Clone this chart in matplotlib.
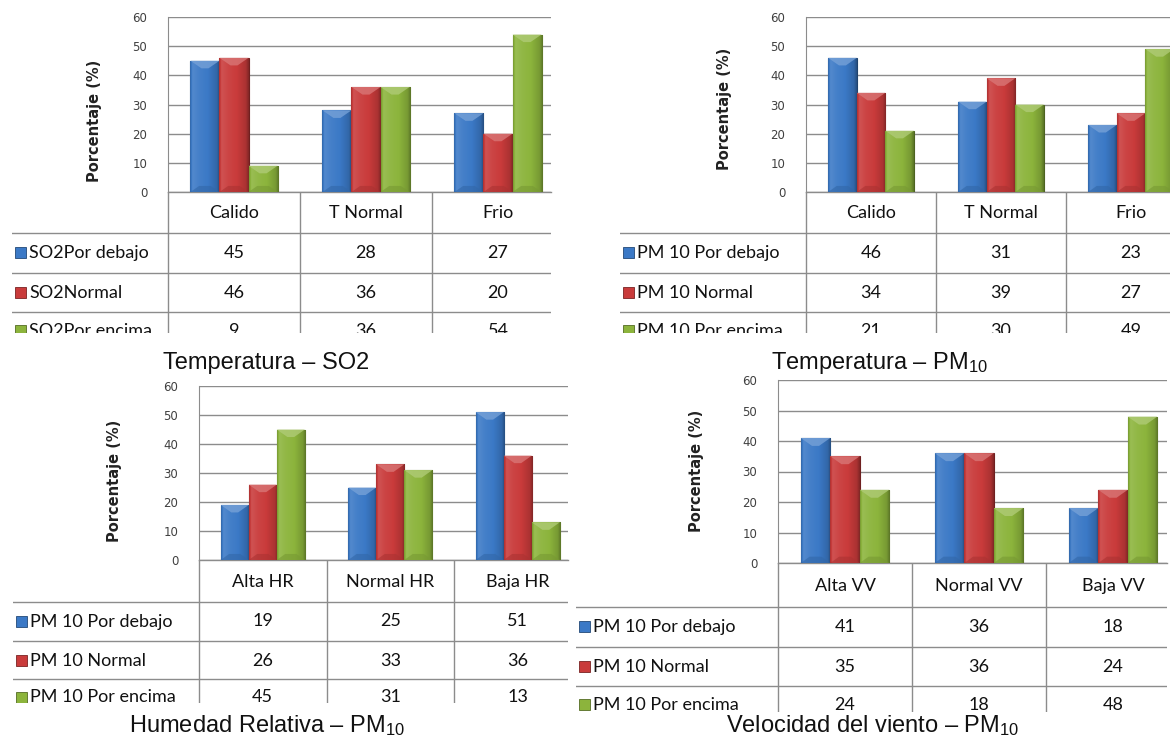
import numpy as np
import matplotlib
matplotlib.use("Agg")
import matplotlib.pyplot as plt
from matplotlib.patches import Rectangle, Polygon
from matplotlib.colors import to_rgb

plt.rcParams['mathtext.fontset'] = 'custom'
plt.rcParams['mathtext.rm'] = 'Liberation Sans'
plt.rcParams['mathtext.it'] = 'Liberation Sans'

# ---------------- data ----------------
cats_temp = ["Calido", "T Normal", "Frio"]
cats_hr = ["Alta HR", "Normal HR", "Baja HR"]
cats_vv = ["Alta VV", "Normal VV", "Baja VV"]
series_so2 = ["SO2Por debajo", "SO2Normal", "SO2Por encima"]
series_pm = ["PM 10 Por debajo", "PM 10 Normal", "PM 10 Por encima"]

so2_temp_debajo = [45, 28, 27]
so2_temp_normal = [46, 36, 20]
so2_temp_encima = [9, 36, 54]

pm_temp_debajo = [46, 31, 23]
pm_temp_normal = [34, 39, 27]
pm_temp_encima = [21, 30, 49]

pm_hr_debajo = [19, 25, 51]
pm_hr_normal = [26, 33, 36]
pm_hr_encima = [45, 31, 13]

pm_vv_debajo = [41, 36, 18]
pm_vv_normal = [35, 36, 24]
pm_vv_encima = [24, 18, 48]

yticks = [0, 10, 20, 30, 40, 50, 60]
ylabel = "Porcentaje (%)"
captions = ["Temperatura – SO2", "Temperatura – PM$_{10}$",
            "Humedad Relativa – PM$_{10}$", "Velocidad del viento – PM$_{10}$"]

# ---------------- style ----------------
series_colors = ["#3B79C6", "#C93B3B", "#8CB43C"]
grid_color = "#8C8C8C"
W, H = 1170, 740
TABLE_FONT = "Lato"
BAR_W = 0.22

fig = plt.figure(figsize=(W / 100, H / 100), dpi=100)


def fx(x):
    return x / W


def fy(y):
    return 1 - y / H


def shade(c, f):
    c = np.array(to_rgb(c))
    if f >= 0:
        return c + (1 - c) * f
    return c * (1 + f)


def gradient_bar(ax, rect, color):
    x, w, h = rect.get_x(), rect.get_width(), rect.get_height()
    t = np.linspace(0, 1, 64)
    prof = np.interp(t, [0, 0.08, 0.3, 0.6, 0.9, 1.0],
                     [-0.15, 0.12, 0.05, 0.0, -0.15, -0.35])
    img = np.array([[shade(color, p) for p in prof]])
    im = ax.imshow(img, extent=[x, x + w, 0, h], aspect='auto',
                   interpolation='bilinear', zorder=3)
    im.set_clip_path(rect)
    bev = min(2.6, h * 0.3)
    top = Polygon([[x, h], [x + w, h], [x + w * 0.62, h - bev], [x + w * 0.38, h - bev]],
                  closed=True, facecolor=shade(color, 0.3), edgecolor='none',
                  alpha=0.8, zorder=4)
    ax.add_patch(top)
    bot = Polygon([[x, 0], [x + w, 0], [x + w * 0.7, bev * 0.8], [x + w * 0.3, bev * 0.8]],
                  closed=True, facecolor=shade(color, -0.15), edgecolor='none',
                  alpha=0.6, zorder=4)
    ax.add_patch(bot)


def panel(left, right_vis, colw, y60, y0, rows, cut, tleft,
          ylab_xy, cap_xy, cats, series, values, caption):
    ax = fig.add_axes([fx(left), fy(y0), (right_vis - left) / W, (y0 - y60) / H])
    xs = np.arange(len(cats))
    for i, (vals, col) in enumerate(zip(values, series_colors)):
        bars = ax.bar(xs + (i - 1) * BAR_W, vals, width=BAR_W, color=col,
                      edgecolor=shade(col, -0.45), linewidth=0.8, zorder=3)
        for r in bars:
            gradient_bar(ax, r, col)
    ax.set_xlim(-0.5, -0.5 + (right_vis - left) / colw)
    ax.set_ylim(0, 60)
    ax.set_yticks(yticks)
    ax.set_yticklabels([str(v) for v in yticks])
    ax.set_xticks([])
    ax.tick_params(axis='y', length=0, pad=15, labelsize=8.5, labelcolor="#404040")
    ax.yaxis.grid(True, color=grid_color, linewidth=1.0, zorder=0)
    ax.set_axisbelow(True)
    for s in ["right", "bottom", "top"]:
        ax.spines[s].set_visible(False)
    ax.spines["left"].set_color(grid_color)
    ax.axhline(0, color=grid_color, linewidth=1.0, zorder=2, clip_on=False)
    for lab in ax.get_yticklabels():
        lab.set_fontfamily("DejaVu Sans")
    fig.text(fx(ylab_xy[0]), fy(ylab_xy[1]), ylabel, rotation=90, ha='center',
             va='center', fontsize=10.5, fontweight='bold', family="DejaVu Sans",
             color="#222222")

    # data table
    tax = fig.add_axes([fx(tleft), fy(cut), (right_vis - tleft) / W, (cut - y0) / H])
    tax.set_xlim(tleft, right_vis)
    tax.set_ylim(cut, y0)
    tax.axis('off')
    r1, r2, r3 = rows
    rh = r2 - r1
    for yy in rows:
        tax.plot([tleft, right_vis], [yy, yy], color=grid_color, lw=1.0, clip_on=True)
    for k in range(len(cats) + 1):
        xx = left + k * colw
        tax.plot([xx, xx], [y0, cut + 5], color=grid_color, lw=1.0, clip_on=True)
    for k, c in enumerate(cats):
        tax.text(left + (k + 0.5) * colw, (y0 + r1) / 2 + 1, c, ha='center', va='center',
                 fontsize=13, family=TABLE_FONT, color="#111111", clip_on=True)
    row_centers = [r1 + rh / 2, r2 + rh / 2, r3 + rh / 2 - 1]
    for i, (vals, name, col) in enumerate(zip(values, series, series_colors)):
        yc = row_centers[i]
        tax.add_patch(Rectangle((tleft + 3, yc - 6), 11, 11, facecolor=col,
                                edgecolor=shade(col, -0.4), lw=0.6, clip_on=True))
        tax.text(tleft + 17, yc, name, ha='left', va='center', fontsize=13,
                 family=TABLE_FONT, color="#111111", clip_on=True)
        for k, v in enumerate(vals):
            tax.text(left + (k + 0.5) * colw, yc, str(v), ha='center', va='center',
                     fontsize=13, family=TABLE_FONT, color="#111111", clip_on=True)

    fig.text(fx(cap_xy[0]), fy(cap_xy[1]), caption, ha='center', va='baseline',
             fontsize=17, family="Liberation Sans", color="#111111")


panel(168, 551, 132, 17, 192, (233, 273, 312), 333, 12, (94, 121), (266, 369),
      cats_temp, series_so2, [so2_temp_debajo, so2_temp_normal, so2_temp_encima],
      captions[0])
panel(806, 1170, 130, 17, 192, (233, 273, 312), 333, 620, (725, 109), (879, 369),
      cats_temp, series_pm, [pm_temp_debajo, pm_temp_normal, pm_temp_encima],
      captions[1])
panel(199, 568, 127.5, 386, 560, (602, 641, 679), 703, 13, (115, 481), (267, 732),
      cats_hr, series_pm, [pm_hr_debajo, pm_hr_normal, pm_hr_encima],
      captions[2])
panel(778, 1167, 134, 380, 563, (607, 647, 686), 712, 576, (697, 471), (873, 732),
      cats_vv, series_pm, [pm_vv_debajo, pm_vv_normal, pm_vv_encima],
      captions[3])

fig.savefig("out.png", dpi=100, facecolor="white")
